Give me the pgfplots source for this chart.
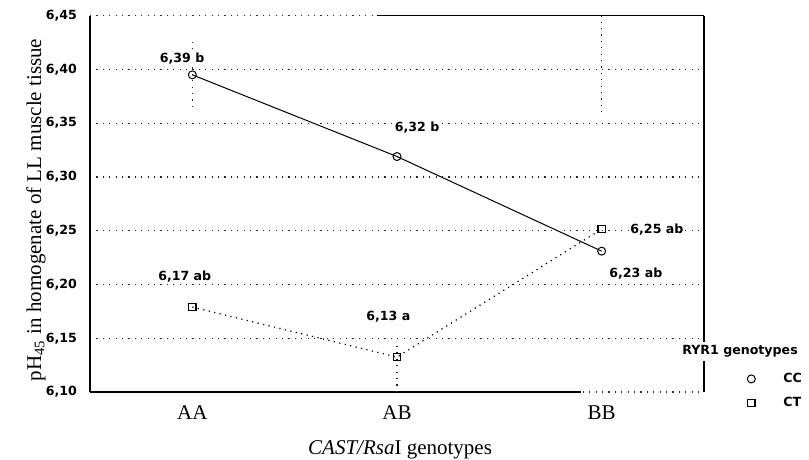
\documentclass[border=0pt]{standalone}
\usepackage{fontspec}
\setmainfont{Liberation Serif}
\newfontfamily\dv{DejaVu Sans}
\usepackage{pgfplots}
\pgfplotsset{compat=1.18}
\newcommand{\lblfont}{\dv\bfseries\fontsize{6.3}{7}\selectfont}
\newcommand{\serfont}{\fontsize{10.5}{12}\selectfont}
\begin{document}
\begin{tikzpicture}
\useasboundingbox (0,0) rectangle (404.5pt,230pt);
\begin{axis}[
  at={(45pt,34pt)}, anchor=south west,
  scale only axis, width=307pt, height=188.15pt,
  xmin=-0.5, xmax=2.5, ymin=6.10, ymax=6.45,
  axis line style={draw=none},
  xtick={0,1,2}, xticklabels={AA,AB,BB},
  ytick={6.10,6.15,6.20,6.25,6.30,6.35,6.40,6.45},
  major tick length=0pt,
  tick style={draw=none},
  ymajorgrids,
  grid style={black!85, line width=0.6pt, dash pattern=on 0.6pt off 2.6pt},
  yticklabel style={font=\lblfont, xshift=-3pt, /pgf/number format/fixed, /pgf/number format/fixed zerofill, /pgf/number format/precision=2, /pgf/number format/use comma, /pgf/number format/assume math mode=true},
  xticklabel style={font=\serfont, yshift=-3.5pt},
  ylabel={pH\textsubscript{45} in homogenate of LL muscle tissue},
  ylabel style={at={(axis description cs:-0.088,0.484)}, anchor=center, font=\serfont},
  xlabel={\textit{CAST/Rsa}I genotypes},
  xlabel style={at={(axis description cs:0.505,-0.154)}, anchor=center, font=\serfont},
  clip=false,
  legend cell align=left,
  legend style={at={(axis cs:2.70,6.122)}, anchor=north west, draw=none, fill=none, font=\lblfont, row sep=2pt, inner sep=0pt},
  legend image code/.code={\path[draw=none] (0pt,0pt) -- (17pt,0pt); \draw[#1, draw=none] plot coordinates {(3pt,0pt)};},
]
% spines
\addplot[forget plot, black, line width=0.75pt] coordinates {(-0.5,6.10)(-0.5,6.45)};
\addplot[forget plot, black, line width=0.75pt] coordinates {(-0.5,6.10)(1.9,6.10)};
\addplot[forget plot, black, line width=0.75pt] coordinates {(0.9,6.45)(2.5,6.45)};
\addplot[forget plot, black, line width=0.75pt] coordinates {(2.5,6.10)(2.5,6.45)};
% confidence bars (visible parts)
\addplot[forget plot, black!85, line width=0.6pt, dash pattern=on 0.6pt off 2.6pt] coordinates {(0,6.365)(0,6.43)};
\addplot[forget plot, black!85, line width=0.6pt, dash pattern=on 0.6pt off 2.6pt] coordinates {(1,6.10)(1,6.145)};
\addplot[forget plot, black!85, line width=0.6pt, dash pattern=on 0.6pt off 2.6pt] coordinates {(2,6.36)(2,6.45)};
% data
\addplot[black, line width=0.5pt, mark=o, mark size=2pt, mark options={solid, fill=white, draw=black}] coordinates {(0,6.395)(1,6.319)(2,6.231)};
\addlegendentry{CC}
\addplot[black, line width=0.6pt, dash pattern=on 0.6pt off 2.2pt, mark=square, mark size=1.8pt, mark options={solid, fill=white, draw=black}] coordinates {(0,6.179)(1,6.1325)(2,6.2515)};
\addlegendentry{CT}
% value labels
\node[font=\lblfont, fill=white, inner sep=0.8pt] at (axis cs:-0.05,6.41) {6,39 b};
\node[font=\lblfont, fill=white, inner sep=0.8pt] at (axis cs:1.098,6.3457) {6,32 b};
\node[font=\lblfont, fill=white, inner sep=0.8pt] at (axis cs:2.167,6.2102) {6,23 ab};
\node[font=\lblfont, fill=white, inner sep=0.8pt] at (axis cs:2.27,6.2515) {6,25 ab};
\node[font=\lblfont, fill=white, inner sep=0.8pt] at (axis cs:-0.037,6.2074) {6,17 ab};
\node[font=\lblfont, fill=white, inner sep=0.8pt] at (axis cs:0.958,6.170) {6,13 a};
\node[font=\lblfont, fill=white, inner sep=2pt] at (axis cs:2.676,6.1377) {RYR1 genotypes};
\end{axis}
\end{tikzpicture}
\end{document}
